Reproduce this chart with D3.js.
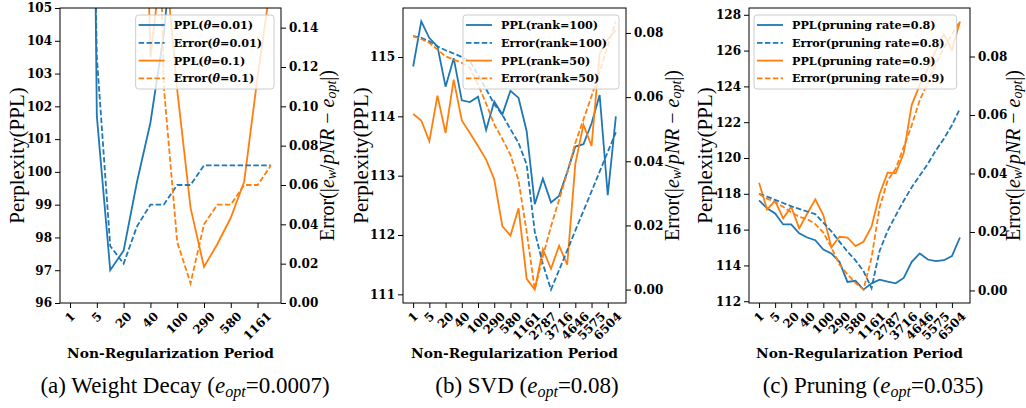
<!DOCTYPE html>
<html>
<head>
<meta charset="utf-8">
<script src="https://cdn.jsdelivr.net/npm/d3@7"></script>
<style>
  body { margin: 0; background: #fff; }
  svg { display: block; }
  .tick text { font-family: "DejaVu Serif"; font-weight: bold; font-size: 12px; fill: #000; }
</style>
</head>
<body>
<svg id="chart" width="1026" height="408"></svg>
<script>
// x tick labels (non-regularization period)
const periodTicksA = ["1", "5", "20", "40", "100", "290", "580", "1161"];
const periodTicksBC = ["1", "5", "20", "40", "100", "290", "580", "1161", "2787", "3716", "4646", "5575", "6504"];

// y tick values
const pplTicksA = [96, 97, 98, 99, 100, 101, 102, 103, 104, 105];
const pplTicksB = [111, 112, 113, 114, 115];
const pplTicksC = [112, 114, 116, 118, 120, 122, 124, 126, 128];
const errTicksA = [0, 0.02, 0.04, 0.06, 0.08, 0.10, 0.12, 0.14];
const errTicksBC = [0, 0.02, 0.04, 0.06, 0.08];

// (a) weight decay
const pplTheta001 = [160, 140, 101.7, 97.0, 97.6, 99.7, 101.5, 104.2, 108.5, 111, 113, 115, 117, 119, 121, 123];
const errTheta001 = [0.60, 0.50, 0.125, 0.029, 0.020, 0.039, 0.050, 0.050, 0.060, 0.060, 0.070, 0.070, 0.070, 0.070, 0.070, 0.070];
const pplTheta01 = [150, 145, 140, 130, 125, 120, 103.5, 107.0, 102.5, 98.9, 97.1, 97.8, 98.6, 99.7, 102.9, 105.8];
const errTheta01 = [0.90, 0.85, 0.80, 0.70, 0.60, 0.50, 0.40, 0.110, 0.031, 0.010, 0.040, 0.050, 0.050, 0.060, 0.060, 0.070];

// (b) SVD
const pplRank100 = [114.84, 115.60, 115.32, 115.18, 114.50, 114.98, 114.27, 114.24, 114.33, 113.77, 114.25, 114.03, 114.43, 114.31, 113.75, 112.52, 112.95, 112.55, 112.66, 113.06, 113.49, 113.53, 113.88, 114.36, 112.67, 114.00];
const errRank100 = [0.0790, 0.0785, 0.0774, 0.0758, 0.0746, 0.0736, 0.0725, 0.0712, 0.0670, 0.0625, 0.0578, 0.0545, 0.0500, 0.0457, 0.0390, 0.0180, 0.0080, 0.0000, 0.0061, 0.0122, 0.0184, 0.0245, 0.0306, 0.0368, 0.0429, 0.0490];
const pplRank50 = [114.04, 113.93, 113.58, 114.35, 113.72, 114.62, 113.93, 113.72, 113.50, 113.27, 112.94, 112.15, 111.99, 112.45, 111.26, 111.08, 111.76, 111.43, 111.82, 111.50, 113.20, 113.86, 113.50, 115.05, 115.30, 115.45];
const errRank50 = [0.0790, 0.0781, 0.0769, 0.0748, 0.0727, 0.0717, 0.0707, 0.0691, 0.0640, 0.0580, 0.0515, 0.0470, 0.0420, 0.0340, 0.0180, 0.0000, 0.0104, 0.0197, 0.0280, 0.0364, 0.0457, 0.0530, 0.0603, 0.0680, 0.0760, 0.0836];

// (c) pruning
const pplRate08 = [117.63, 117.19, 116.90, 116.29, 116.29, 115.79, 115.56, 115.41, 114.89, 114.67, 114.20, 113.08, 113.14, 112.65, 113.00, 113.20, 113.10, 113.00, 113.30, 114.20, 114.67, 114.33, 114.24, 114.29, 114.52, 115.56];
const errRate08 = [0.0330, 0.0321, 0.0310, 0.0299, 0.0288, 0.0279, 0.0270, 0.0261, 0.0232, 0.0202, 0.0167, 0.0133, 0.0103, 0.0066, 0.0008, 0.0135, 0.0204, 0.0256, 0.0307, 0.0353, 0.0393, 0.0433, 0.0479, 0.0519, 0.0565, 0.0622];
const pplRate09 = [118.62, 117.13, 117.61, 116.63, 117.28, 116.07, 116.90, 117.69, 116.81, 115.00, 115.60, 115.56, 115.08, 115.32, 116.16, 117.99, 119.18, 119.15, 120.26, 122.97, 124.08, 125.00, 126.00, 126.90, 126.04, 127.63];
const errRate09 = [0.0330, 0.0314, 0.0302, 0.0286, 0.0267, 0.0252, 0.0244, 0.0227, 0.0198, 0.0147, 0.0089, 0.0055, 0.0026, 0.0003, 0.0112, 0.0284, 0.0376, 0.0416, 0.0490, 0.0565, 0.0651, 0.0710, 0.0775, 0.0830, 0.0875, 0.0920];

const blue = "#1f77b4", orange = "#ff7f0e";
const plotTop = 8, plotBottom = 303;
const serif = "'Liberation Serif', 'Times New Roman', serif";
const boldSerif = "'DejaVu Serif', serif";

const svg = d3.select("#chart");

// matplotlib-like 5% autoscale margin
function padded(values) {
  const [lo, hi] = d3.extent(values);
  const m = (hi - lo) * 0.05;
  return [lo - m, hi + m];
}

const panels = [
  {
    id: "a", left: 60, right: 281, ticks: periodTicksA,
    ppl: [pplTheta001, pplTheta01], err: [errTheta001, errTheta01],
    pplDomain: [96, 105], errDomain: [0, 0.15],
    pplTicks: pplTicksA, errTicks: errTicksA,
    names: [["PPL(", "θ", "=0.01)"], ["Error(", "θ", "=0.01)"], ["PPL(", "θ", "=0.1)"], ["Error(", "θ", "=0.1)"]],
    legendSide: "right", ylabX: 17, errLabX: 327,
    capX: 185, cap: ["(a) Weight Decay (", "=0.0007)"]
  },
  {
    id: "b", left: 403, right: 626, ticks: periodTicksBC,
    ppl: [pplRank100, pplRank50], err: [errRank100, errRank50],
    pplTicks: pplTicksB, errTicks: errTicksBC,
    names: [["PPL(rank=100)"], ["Error(rank=100)"], ["PPL(rank=50)"], ["Error(rank=50)"]],
    legendSide: "right", ylabX: 361, errLabX: 672,
    capX: 527, cap: ["(b) SVD (", "=0.08)"]
  },
  {
    id: "c", left: 749, right: 970, ticks: periodTicksBC,
    ppl: [pplRate08, pplRate09], err: [errRate08, errRate09],
    pplTicks: pplTicksC, errTicks: errTicksBC,
    names: [["PPL(pruning rate=0.8)"], ["Error(pruning rate=0.8)"], ["PPL(pruning rate=0.9)"], ["Error(pruning rate=0.9)"]],
    legendSide: "left", ylabX: 705, errLabX: 1013,
    capX: 873, cap: ["(c) Pruning (", "=0.035)"]
  }
];

function drawPanel(p) {
  const g = svg.append("g");
  const n = p.ppl[0].length;

  const x = d3.scaleLinear()
    .domain([-0.05 * (n - 1), 1.05 * (n - 1)])
    .range([p.left, p.right]);
  const y = d3.scaleLinear()
    .domain(p.pplDomain || padded(p.ppl.flat()))
    .range([plotBottom, plotTop]);
  const y2 = d3.scaleLinear()
    .domain(p.errDomain || padded(p.err.flat()))
    .range([plotBottom, plotTop]);

  svg.append("clipPath").attr("id", "clip-" + p.id)
    .append("rect")
    .attr("x", p.left).attr("y", plotTop)
    .attr("width", p.right - p.left).attr("height", plotBottom - plotTop);

  const lines = g.append("g").attr("clip-path", `url(#clip-${p.id})`);
  const colors = [blue, orange];

  p.ppl.forEach((s, k) => {
    lines.append("path")
      .attr("d", d3.line().x((d, i) => x(i)).y(d => y(d))(s))
      .attr("fill", "none").attr("stroke", colors[k]).attr("stroke-width", 1.8);
  });
  p.err.forEach((s, k) => {
    lines.append("path")
      .attr("d", d3.line().x((d, i) => x(i)).y(d => y2(d))(s))
      .attr("fill", "none").attr("stroke", colors[k]).attr("stroke-width", 1.8)
      .attr("stroke-dasharray", "5.5,2.4");
  });

  // axes
  const bottomAxis = g.append("g")
    .attr("transform", `translate(0,${plotBottom})`)
    .call(d3.axisBottom(x).tickValues(d3.range(0, n, 2)).tickFormat("").tickSize(5).tickSizeOuter(0));
  bottomAxis.select(".domain").remove();

  const leftAxis = g.append("g")
    .attr("transform", `translate(${p.left},0)`)
    .call(d3.axisLeft(y).tickValues(p.pplTicks).tickFormat(d3.format("d")).tickSize(5).tickPadding(3));
  leftAxis.select(".domain").remove();

  const rightAxis = g.append("g")
    .attr("transform", `translate(${p.right},0)`)
    .call(d3.axisRight(y2).tickValues(p.errTicks).tickFormat(d3.format(".2f")).tickSize(5).tickPadding(3));
  rightAxis.select(".domain").remove();

  g.selectAll(".tick line").attr("stroke", "#000").attr("stroke-width", 1);

  // rotated x tick labels, bbox centered on the tick
  p.ticks.forEach((lab, j) => {
    const t = g.append("text")
      .attr("font-family", boldSerif).attr("font-weight", "bold").attr("font-size", 12)
      .attr("text-anchor", "middle").attr("dominant-baseline", "central")
      .text(lab);
    const w = t.node().getComputedTextLength();
    const hb = (w + 9) / Math.SQRT2;
    t.attr("transform", `translate(${x(j * 2)},${311 + hb / 2}) rotate(-45)`);
  });

  // frame
  g.append("rect")
    .attr("x", p.left).attr("y", plotTop)
    .attr("width", p.right - p.left).attr("height", plotBottom - plotTop)
    .attr("fill", "none").attr("stroke", "#000").attr("stroke-width", 1);

  // axis titles
  g.append("text")
    .attr("x", (p.left + p.right) / 2).attr("y", 358)
    .attr("text-anchor", "middle")
    .attr("font-family", boldSerif).attr("font-weight", "bold").attr("font-size", 13.8)
    .text("Non-Regularization Period");

  const midY = (plotTop + plotBottom) / 2;
  g.append("text")
    .attr("transform", `translate(${p.ylabX},${midY}) rotate(-90)`)
    .attr("text-anchor", "middle").attr("dominant-baseline", "central")
    .attr("font-family", serif).attr("font-size", 21)
    .text("Perplexity(PPL)");

  const el = g.append("text")
    .attr("transform", `translate(${p.errLabX},${midY}) rotate(-90)`)
    .attr("text-anchor", "middle").attr("dominant-baseline", "central")
    .attr("font-family", serif).attr("font-size", 20);
  el.append("tspan").text("Error(|");
  el.append("tspan").attr("font-style", "italic").text("e");
  el.append("tspan").attr("font-style", "italic").attr("font-size", 14).attr("dy", 4).text("w");
  el.append("tspan").attr("dy", -4).text("/");
  el.append("tspan").attr("font-style", "italic").text("pNR");
  el.append("tspan").text(" − ");
  el.append("tspan").attr("font-style", "italic").text("e");
  el.append("tspan").attr("font-style", "italic").attr("font-size", 14).attr("dy", 4).text("opt");
  el.append("tspan").attr("dy", -4).text("|)");

  // legend
  const lg = g.append("g");
  const frame = lg.append("rect")
    .attr("rx", 3).attr("ry", 3)
    .attr("fill", "#fff").attr("fill-opacity", 0.8)
    .attr("stroke", "#ccc").attr("stroke-width", 1);
  let maxW = 0;
  p.names.forEach((parts, k) => {
    const ry = 10 + k * 17.8;
    const line = lg.append("line")
      .attr("x1", 3).attr("x2", 29).attr("y1", ry).attr("y2", ry)
      .attr("stroke", colors[Math.floor(k / 2)]).attr("stroke-width", 1.8);
    if (k % 2 === 1) line.attr("stroke-dasharray", "5.5,2.4");
    const t = lg.append("text")
      .attr("x", 38).attr("y", ry).attr("dominant-baseline", "central")
      .attr("font-family", boldSerif).attr("font-weight", "bold").attr("font-size", 11.2);
    parts.forEach((s, q) => {
      const ts = t.append("tspan").text(s);
      if (parts.length === 3 && q === 1) ts.attr("font-style", "italic");
    });
    maxW = Math.max(maxW, t.node().getComputedTextLength());
  });
  const lw = 38 + maxW + 12, lh = 74;
  frame.attr("width", lw).attr("height", lh);
  const lx = p.legendSide === "right" ? p.right - 7 - lw : p.left + 5;
  lg.attr("transform", `translate(${lx},15)`);

  // caption
  const cap = svg.append("text")
    .attr("x", p.capX).attr("y", 393)
    .attr("text-anchor", "middle")
    .attr("font-family", serif).attr("font-size", 23);
  cap.append("tspan").text(p.cap[0]);
  cap.append("tspan").attr("font-style", "italic").text("e");
  cap.append("tspan").attr("font-style", "italic").attr("font-size", 16).attr("dy", 4).text("opt");
  cap.append("tspan").attr("dy", -4).text(p.cap[1]);
}

panels.forEach(drawPanel);
</script>
</body>
</html>
